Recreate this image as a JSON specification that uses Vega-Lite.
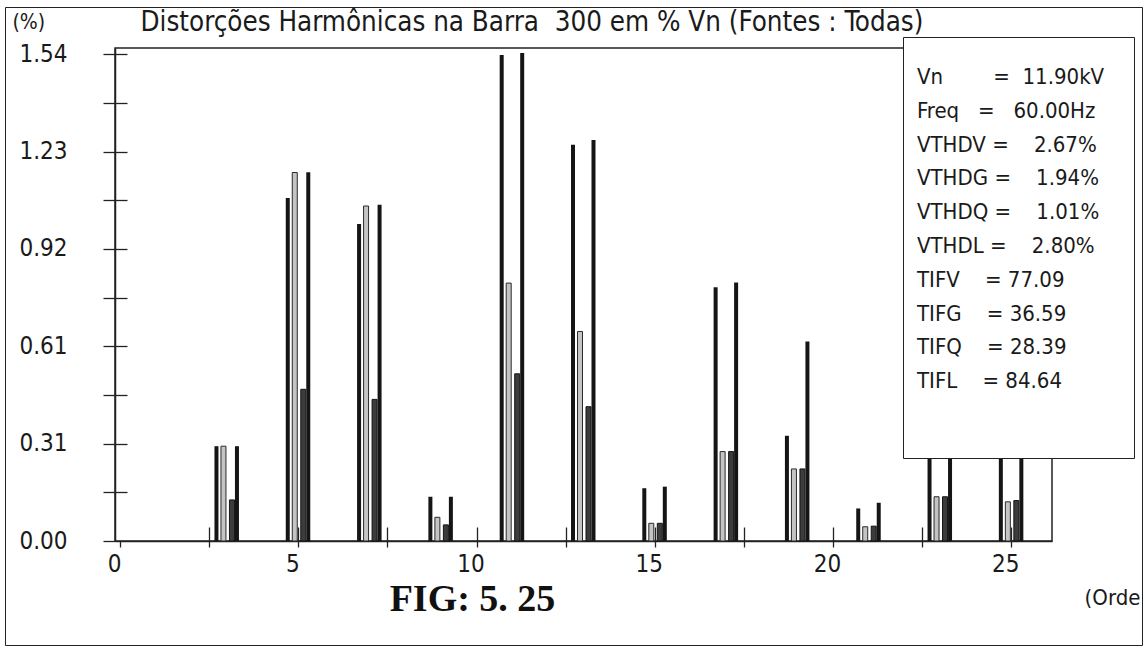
{
  "$schema": "https://vega.github.io/schema/vega-lite/v6.json",
  "width": 937,
  "height": 493,
  "autosize": "none",
  "padding": {"left": 115, "top": 48, "right": 96, "bottom": 112},
  "background": "white",
  "config": {
    "font": "DejaVu Sans Condensed",
    "view": {"stroke": "#222", "strokeWidth": 1.5},
    "axis": {"grid": false, "domainColor": "#222", "tickColor": "#222", "labelColor": "#1a1a1a", "titleColor": "#1a1a1a", "labelFont": "DejaVu Sans Condensed", "titleFont": "DejaVu Sans Condensed", "titleFontWeight": "normal"}
  },
  "datasets": {
    "harm": [
      {"h": 3, "s": "V", "v": 0.30}, {"h": 3, "s": "G", "v": 0.30}, {"h": 3, "s": "Q", "v": 0.13}, {"h": 3, "s": "L", "v": 0.30},
      {"h": 5, "s": "V", "v": 1.085}, {"h": 5, "s": "G", "v": 1.166}, {"h": 5, "s": "Q", "v": 0.48}, {"h": 5, "s": "L", "v": 1.167},
      {"h": 7, "s": "V", "v": 1.003}, {"h": 7, "s": "G", "v": 1.06}, {"h": 7, "s": "Q", "v": 0.448}, {"h": 7, "s": "L", "v": 1.064},
      {"h": 9, "s": "V", "v": 0.14}, {"h": 9, "s": "G", "v": 0.075}, {"h": 9, "s": "Q", "v": 0.051}, {"h": 9, "s": "L", "v": 0.14},
      {"h": 11, "s": "V", "v": 1.538}, {"h": 11, "s": "G", "v": 0.816}, {"h": 11, "s": "Q", "v": 0.529}, {"h": 11, "s": "L", "v": 1.544},
      {"h": 13, "s": "V", "v": 1.254}, {"h": 13, "s": "G", "v": 0.663}, {"h": 13, "s": "Q", "v": 0.425}, {"h": 13, "s": "L", "v": 1.269},
      {"h": 15, "s": "V", "v": 0.167}, {"h": 15, "s": "G", "v": 0.056}, {"h": 15, "s": "Q", "v": 0.056}, {"h": 15, "s": "L", "v": 0.172},
      {"h": 17, "s": "V", "v": 0.803}, {"h": 17, "s": "G", "v": 0.283}, {"h": 17, "s": "Q", "v": 0.283}, {"h": 17, "s": "L", "v": 0.818},
      {"h": 19, "s": "V", "v": 0.333}, {"h": 19, "s": "G", "v": 0.228}, {"h": 19, "s": "Q", "v": 0.228}, {"h": 19, "s": "L", "v": 0.631},
      {"h": 21, "s": "V", "v": 0.103}, {"h": 21, "s": "G", "v": 0.045}, {"h": 21, "s": "Q", "v": 0.047}, {"h": 21, "s": "L", "v": 0.121},
      {"h": 23, "s": "V", "v": 0.29}, {"h": 23, "s": "G", "v": 0.14}, {"h": 23, "s": "Q", "v": 0.14}, {"h": 23, "s": "L", "v": 0.30},
      {"h": 25, "s": "V", "v": 0.28}, {"h": 25, "s": "G", "v": 0.124}, {"h": 25, "s": "Q", "v": 0.128}, {"h": 25, "s": "L", "v": 0.29}
    ],
    "info": [
      {"i": 1, "t": "Vn\u00a0\u00a0\u00a0\u00a0\u00a0\u00a0\u00a0\u00a0=\u00a0\u00a011.90kV"},
      {"i": 2, "t": "Freq\u00a0\u00a0\u00a0=\u00a0\u00a0\u00a060.00Hz"},
      {"i": 3, "t": "VTHDV\u00a0=\u00a0\u00a0\u00a0\u00a02.67%"},
      {"i": 4, "t": "VTHDG\u00a0=\u00a0\u00a0\u00a0\u00a01.94%"},
      {"i": 5, "t": "VTHDQ\u00a0=\u00a0\u00a0\u00a0\u00a01.01%"},
      {"i": 6, "t": "VTHDL\u00a0=\u00a0\u00a0\u00a0\u00a02.80%"},
      {"i": 7, "t": "TIFV\u00a0\u00a0\u00a0\u00a0=\u00a077.09"},
      {"i": 8, "t": "TIFG\u00a0\u00a0\u00a0\u00a0=\u00a036.59"},
      {"i": 9, "t": "TIFQ\u00a0\u00a0\u00a0\u00a0=\u00a028.39"},
      {"i": 10, "t": "TIFL\u00a0\u00a0\u00a0\u00a0=\u00a084.64"}
    ]
  },
  "layer": [
    {
      "data": {"name": "harm"},
      "encoding": {
        "x": {
          "field": "h", "type": "quantitative",
          "scale": {"domain": [0, 26], "nice": false, "zero": false},
          "axis": {
            "orient": "bottom",
            "values": [0, 2.5, 5, 7.5, 10, 12.5, 15, 17.5, 20, 22.5, 25],
            "labelExpr": "datum.value % 5 == 0 ? datum.label : ''",
            "labelOverlap": false, "labelFlush": false,
            "tickSize": 6, "tickWidth": 1.3, "domainWidth": 1.5,
            "labelPadding": 5, "labelOffset": -6, "labelFontSize": 24,
            "title": "(Orde", "titleFontSize": 22, "titleX": 997, "titleY": 56,
            "titleAlign": "center", "titleBaseline": "middle"
          }
        },
        "y": {
          "field": "v", "type": "quantitative",
          "scale": {"domain": [0, 1.56], "nice": false},
          "axis": {
            "orient": "left",
            "values": [0, 0.154, 0.308, 0.462, 0.616, 0.77, 0.924, 1.078, 1.232, 1.386, 1.54],
            "labelExpr": "datum.value == 0 ? '0.00' : datum.value == 0.308 ? '0.31' : datum.value == 0.616 ? '0.61' : datum.value == 0.924 ? '0.92' : datum.value == 1.232 ? '1.23' : datum.value == 1.54 ? '1.54' : ''",
            "labelOverlap": false, "labelFlush": false,
            "tickSize": 12, "tickWidth": 1.3, "domainWidth": 1.5,
            "labelPadding": 36, "labelFontSize": 24,
            "title": "(%)", "titleAngle": 0, "titleFontSize": 21, "titleX": -103, "titleY": -26,
            "titleAlign": "left", "titleBaseline": "middle"
          }
        }
      },
      "layer": [
        {"transform": [{"filter": "datum.s == 'V'"}], "mark": {"type": "bar", "width": 4, "xOffset": -10.5, "color": "#151515"}},
        {"transform": [{"filter": "datum.s == 'G'"}], "mark": {"type": "bar", "width": 5, "xOffset": -3.5, "fill": "#c4c4c4", "stroke": "#2a2a2a", "strokeWidth": 1}},
        {"transform": [{"filter": "datum.s == 'Q'"}], "mark": {"type": "bar", "width": 5, "xOffset": 5, "fill": "#3c3c3c", "stroke": "#151515", "strokeWidth": 1}},
        {"transform": [{"filter": "datum.s == 'L'"}], "mark": {"type": "bar", "width": 4, "xOffset": 10, "color": "#151515"}}
      ]
    },
    {
      "data": {"name": "harm"},
      "mark": {"type": "point", "opacity": 0},
      "encoding": {
        "x": {
          "field": "h", "type": "quantitative",
          "scale": {"domain": [0, 26], "nice": false, "zero": false},
          "axis": {
            "orient": "top", "offset": -493,
            "values": [2.5, 5, 7.5, 10, 12.5, 15, 17.5, 20, 22.5, 25],
            "labels": false, "domain": false, "tickSize": 14, "tickWidth": 1.3,
            "title": "FIG: 5. 25", "titleFont": "Liberation Serif", "titleFontWeight": "bold", "titleFontSize": 38,
            "titleX": 357, "titleY": 58, "titleAlign": "center", "titleBaseline": "middle", "titleColor": "#111"
          }
        },
        "y": {
          "field": "v", "type": "quantitative",
          "scale": {"domain": [0, 1.56], "nice": false},
          "axis": {
            "orient": "right", "offset": -937,
            "values": [0.154, 0.308, 0.462, 0.616, 0.77, 0.924, 1.078, 1.232, 1.386, 1.54],
            "labels": false, "domain": false, "tickSize": 12, "tickWidth": 1.3,
            "title": "Distorções Harmônicas na Barra\u00a0 300 em % Vn (Fontes : Todas)",
            "titleAngle": 0, "titleFontSize": 27.5, "titleX": 25, "titleY": -26,
            "titleAlign": "left", "titleBaseline": "middle"
          }
        },
        "color": {
          "field": "v", "type": "quantitative",
          "legend": {
            "orient": "none", "legendX": -110, "legendY": -41, "zindex": 0,
            "direction": "vertical", "padding": 0, "title": null,
            "labelExpr": "''", "labelOpacity": 0, "labelOffset": 0, "labelFontSize": 1,
            "gradientLength": 638, "gradientThickness": 1137, "gradientOpacity": 0,
            "gradientStrokeWidth": 0, "strokeColor": "#222", "fillColor": null
          }
        }
      }
    },
    {
      "data": {"name": "info"},
      "mark": {"type": "text", "text": ""},
      "encoding": {
        "color": {
          "field": "t", "type": "nominal",
          "sort": {"field": "i", "op": "min"},
          "scale": {"range": ["#111"]},
          "legend": {
            "orient": "none", "legendX": 788, "legendY": -11, "zindex": 1,
            "padding": 29, "strokeColor": "#222", "fillColor": "white", "cornerRadius": 0,
            "symbolType": "square", "symbolSize": 1, "symbolOpacity": 0, "symbolStrokeWidth": 0,
            "labelFont": "DejaVu Sans Condensed", "labelFontSize": 22, "labelColor": "#1a1a1a", "labelLimit": 400, "labelOffset": -37,
            "rowPadding": 11.8,
            "title": "\u00a0\u00a0\u00a0\u00a0\u00a0\u00a0\u00a0\u00a0\u00a0\u00a0\u00a0\u00a0\u00a0\u00a0\u00a0\u00a0\u00a0\u00a0\u00a0\u00a0\u00a0\u00a0\u00a0\u00a0\u00a0\u00a0\u00a0\u00a0\u00a0\u00a0\u00a0\u00a0\u00a0\u00a0\u00a0\u00a0\u00a0\u00a0",
            "titleOrient": "bottom", "titleFont": "DejaVu Sans Condensed", "titleFontSize": 16.8, "titlePadding": 20, "titleLimit": 500
          }
        }
      }
    }
  ],
  "resolve": {"axis": {"x": "independent", "y": "independent"}, "scale": {"color": "independent"}}
}
